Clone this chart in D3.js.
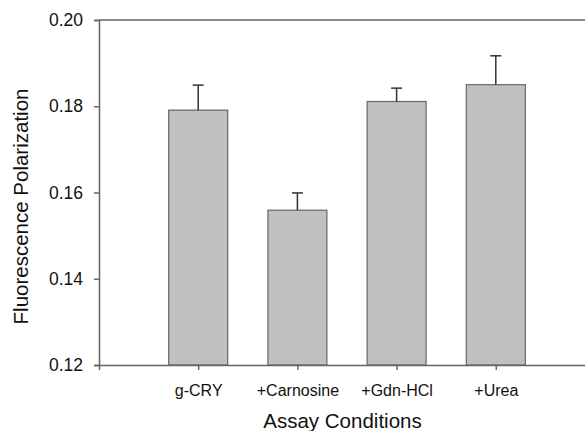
<!DOCTYPE html>
<html>
<head>
<meta charset="utf-8">
<script src="https://cdn.jsdelivr.net/npm/d3@7"></script>
<style>
  body { margin: 0; background: #fff; }
  svg text { font-family: "Liberation Sans", Arial, sans-serif; fill: #111; }
</style>
</head>
<body>
<div id="chart"></div>
<script>
// data
const categories = ["g-CRY", "+Carnosine", "+Gdn-HCl", "+Urea"];
const values = [0.1791, 0.1559, 0.1811, 0.1850];
const errors = [0.0058, 0.0040, 0.0031, 0.0067];
const yTicks = [0.12, 0.14, 0.16, 0.18, 0.20];

const width = 585, height = 431;
const plotLeft = 99, plotTop = 20, plotBottom = 365;

const svg = d3.select("#chart")
    .append("svg")
    .attr("width", width)
    .attr("height", height);

// categories sit at 1..4 on a 0..5 axis, right end is cropped off the picture
const x = d3.scaleLinear().domain([0, 5]).range([plotLeft, 595]);
const y = d3.scaleLinear().domain([0.12, 0.20]).range([plotBottom, plotTop]);
const barW = 59;

// top frame line
svg.append("line")
    .attr("x1", plotLeft).attr("x2", width)
    .attr("y1", plotTop).attr("y2", plotTop)
    .attr("stroke", "#666").attr("stroke-width", 1.5);

// bars
svg.selectAll("rect.bar")
    .data(values)
    .enter().append("rect")
    .attr("class", "bar")
    .attr("x", (d, i) => x(i + 1) - barW / 2)
    .attr("y", d => y(d))
    .attr("width", barW)
    .attr("height", d => y(0.12) - y(d))
    .attr("fill", "#c0c0c0")
    .attr("stroke", "#666")
    .attr("stroke-width", 1.2);

// error bars (upper only)
const err = svg.selectAll("g.err")
    .data(values)
    .enter().append("g")
    .attr("class", "err")
    .attr("stroke", "#333")
    .attr("stroke-width", 1.5);

err.append("line")
    .attr("x1", (d, i) => x(i + 1)).attr("x2", (d, i) => x(i + 1))
    .attr("y1", d => y(d))
    .attr("y2", (d, i) => y(d + errors[i]));

err.append("line")
    .attr("x1", (d, i) => x(i + 1) - 5.5).attr("x2", (d, i) => x(i + 1) + 5.5)
    .attr("y1", (d, i) => y(d + errors[i]))
    .attr("y2", (d, i) => y(d + errors[i]));

// y axis
const yAxis = svg.append("g")
    .attr("transform", `translate(${plotLeft},0)`)
    .call(d3.axisLeft(y).tickValues(yTicks).tickFormat(d3.format(".2f")).tickSize(5).tickPadding(11));

// x axis
const xAxis = svg.append("g")
    .attr("transform", `translate(0,${plotBottom})`)
    .call(d3.axisBottom(x).tickValues([1, 2, 3, 4]).tickFormat(d => categories[d - 1]).tickSize(5).tickPadding(15));

[yAxis, xAxis].forEach(g => {
    g.select(".domain").attr("stroke", "#666").attr("stroke-width", 1.5);
    g.selectAll(".tick line").attr("stroke", "#666").attr("stroke-width", 1.5);
    g.selectAll("text")
        .style("font-family", "'Liberation Sans', Arial, sans-serif")
        .attr("fill", "#111");
});
yAxis.selectAll("text").style("font-size", "17.5px");
xAxis.selectAll("text").style("font-size", "16px");

// axis titles
svg.append("text")
    .attr("x", 342.5)
    .attr("y", 428)
    .attr("text-anchor", "middle")
    .style("font-size", "20.5px")
    .text("Assay Conditions");

svg.append("text")
    .attr("transform", "translate(28,206.5) rotate(-90)")
    .attr("text-anchor", "middle")
    .style("font-size", "20.5px")
    .text("Fluorescence Polarization");
</script>
</body>
</html>
